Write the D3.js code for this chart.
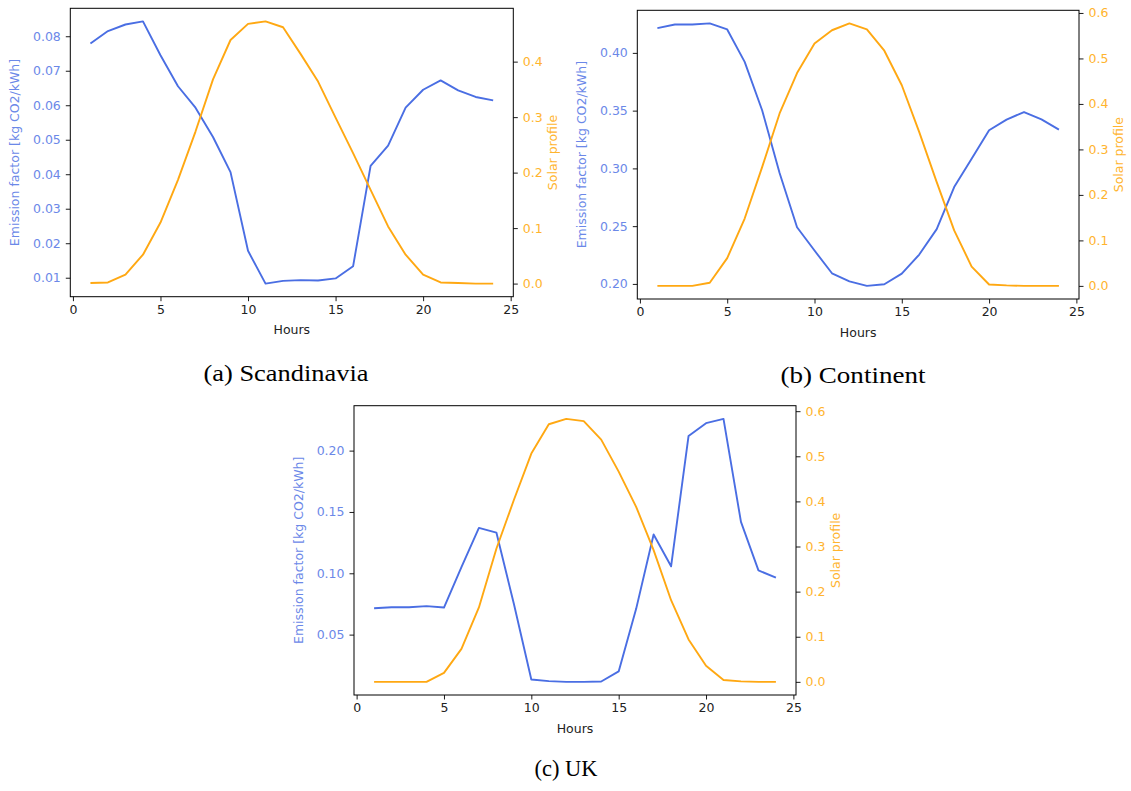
<!DOCTYPE html>
<html>
<head>
<meta charset="utf-8">
<script src="https://cdn.jsdelivr.net/npm/d3@7"></script>
<style>
  body { margin: 0; background: #fff; }
  svg { display: block; }
</style>
</head>
<body>
<svg id="chart" width="1131" height="791"></svg>
<script>
(() => {

    // data
    const hours = [1, 2, 3, 4, 5, 6, 7, 8, 9, 10, 11, 12, 13, 14, 15, 16, 17, 18, 19, 20, 21, 22, 23, 24];
    const x_ticks = [0, 5, 10, 15, 20, 25];

    const scand_emission = [0.0779, 0.0815, 0.0834, 0.0843, 0.0745, 0.0655, 0.0593, 0.0508, 0.0406, 0.0178, 0.0083, 0.0091,
        0.0093, 0.0092, 0.0098, 0.0133, 0.0424, 0.0483, 0.0593, 0.0645, 0.0672, 0.0643, 0.0624, 0.0614];
    const scand_solar = [0.001, 0.002, 0.016, 0.052, 0.110, 0.187, 0.274, 0.368, 0.439, 0.468, 0.4725, 0.462,
        0.414, 0.364, 0.299, 0.235, 0.169, 0.103, 0.052, 0.016, 0.002, 0.001, 0.0, 0.0];
    const scand_ticks = [0.01, 0.02, 0.03, 0.04, 0.05, 0.06, 0.07, 0.08];
    const scand_solar_ticks = [0.0, 0.1, 0.2, 0.3, 0.4];

    const cont_emission = [0.4214, 0.4246, 0.4246, 0.4255, 0.4203, 0.3922, 0.3503, 0.2960, 0.2491, 0.2289, 0.2092, 0.2022,
        0.1983, 0.1997, 0.2089, 0.2254, 0.2474, 0.2838, 0.3084, 0.3330, 0.3422, 0.3488, 0.3424, 0.3336];
    const cont_solar = [0.0, 0.0, 0.0, 0.007, 0.061, 0.148, 0.261, 0.379, 0.468, 0.533, 0.562, 0.577,
        0.564, 0.517, 0.441, 0.338, 0.228, 0.122, 0.0425, 0.003, 0.001, 0.0, 0.0, 0.0];
    const cont_ticks = [0.20, 0.25, 0.30, 0.35, 0.40];
    const cont_solar_ticks = [0.0, 0.1, 0.2, 0.3, 0.4, 0.5, 0.6];

    const uk_emission = [0.0715, 0.0723, 0.0723, 0.0732, 0.0721, 0.1051, 0.1370, 0.1332, 0.0751, 0.0134, 0.0121, 0.0115,
        0.0115, 0.0118, 0.0200, 0.0710, 0.1316, 0.1057, 0.2120, 0.2224, 0.2259, 0.1419, 0.1024, 0.0964];
    const uk_solar = [0.0, 0.0, 0.0, 0.0, 0.020, 0.073, 0.165, 0.295, 0.403, 0.506, 0.571, 0.583,
        0.578, 0.537, 0.466, 0.388, 0.292, 0.181, 0.094, 0.0355, 0.004, 0.001, 0.0, 0.0];
    const uk_ticks = [0.05, 0.10, 0.15, 0.20];
    const uk_solar_ticks = [0.0, 0.1, 0.2, 0.3, 0.4, 0.5, 0.6];

    // colours
    const line_blue = '#4a6ee3';
    const text_blue = '#6b88e8';
    const line_orange = '#ffa812';
    const text_orange = '#ffb42e';
    const font = 'DejaVu Sans, sans-serif';
    const font_size = 12.5;

    let svg = d3.select('#chart');

    // matplotlib style 5% margins
    let padded = function (values) {
        let lo = d3.min(values), hi = d3.max(values);
        let m = (hi - lo) * 0.05;
        return [lo - m, hi + m];
    };

    let draw_panel = function (p) {

        let g = svg.append('g');

        let x_scale = d3.scaleLinear()
            .domain(padded(hours))
            .range([p.left, p.right]);

        let y_left = d3.scaleLinear()
            .domain(padded(p.emission))
            .range([p.bottom, p.top]);

        let y_right = d3.scaleLinear()
            .domain(padded(p.solar))
            .range([p.bottom, p.top]);

        // lines
        let emission_line = d3.line()
            .x((d, i) => x_scale(hours[i]))
            .y((d) => y_left(d));

        let solar_line = d3.line()
            .x((d, i) => x_scale(hours[i]))
            .y((d) => y_right(d));

        g.append('path')
            .datum(p.emission)
            .attr('d', emission_line)
            .attr('fill', 'none')
            .attr('stroke', line_blue)
            .attr('stroke-width', 1.9)
            .attr('stroke-linejoin', 'round');

        g.append('path')
            .datum(p.solar)
            .attr('d', solar_line)
            .attr('fill', 'none')
            .attr('stroke', line_orange)
            .attr('stroke-width', 1.9)
            .attr('stroke-linejoin', 'round');

        // axes
        let x_axis = d3.axisBottom(x_scale)
            .tickValues(x_ticks)
            .tickFormat(d3.format('d'))
            .tickSize(4.5)
            .tickPadding(4);

        let left_axis = d3.axisLeft(y_left)
            .tickValues(p.ticks)
            .tickFormat(d3.format('.2f'))
            .tickSize(4.5)
            .tickPadding(5);

        let right_axis = d3.axisRight(y_right)
            .tickValues(p.solar_ticks)
            .tickFormat(d3.format('.1f'))
            .tickSize(4.5)
            .tickPadding(5);

        let style_axis = function (sel, color) {
            sel.select('.domain').remove();
            sel.selectAll('line').attr('stroke', '#000').attr('stroke-width', 0.9);
            sel.selectAll('text')
                .style('font-family', font)
                .style('font-size', font_size + 'px')
                .attr('fill', color);
        };

        g.append('g')
            .attr('transform', `translate(0, ${p.bottom})`)
            .call(x_axis)
            .call((s) => style_axis(s, '#222'));

        g.append('g')
            .attr('transform', `translate(${p.left}, 0)`)
            .call(left_axis)
            .call((s) => style_axis(s, text_blue));

        g.append('g')
            .attr('transform', `translate(${p.right}, 0)`)
            .call(right_axis)
            .call((s) => style_axis(s, text_orange));

        // frame
        g.append('rect')
            .attr('x', p.left)
            .attr('y', p.top)
            .attr('width', p.right - p.left)
            .attr('height', p.bottom - p.top)
            .attr('fill', 'none')
            .attr('stroke', '#000')
            .attr('stroke-width', 1);

        let mid_y = (p.top + p.bottom) / 2;

        // labels
        g.append('text')
            .attr('x', (p.left + p.right) / 2)
            .attr('y', p.bottom + 34)
            .attr('text-anchor', 'middle')
            .attr('dominant-baseline', 'middle')
            .style('font-family', font)
            .style('font-size', font_size + 'px')
            .attr('fill', '#222')
            .text('Hours');

        g.append('text')
            .attr('transform', `translate(${p.left - 55}, ${mid_y}) rotate(-90)`)
            .attr('text-anchor', 'middle')
            .attr('dominant-baseline', 'middle')
            .style('font-family', font)
            .style('font-size', font_size + 'px')
            .attr('fill', text_blue)
            .text('Emission factor [kg CO2/kWh]');

        g.append('text')
            .attr('transform', `translate(${p.right + 40}, ${mid_y}) rotate(-90)`)
            .attr('text-anchor', 'middle')
            .attr('dominant-baseline', 'middle')
            .style('font-family', font)
            .style('font-size', font_size + 'px')
            .attr('fill', text_orange)
            .text('Solar profile');

        // caption (latex style, wider than Times so stretch to measured width)
        svg.append('text')
            .attr('x', p.caption_x)
            .attr('y', p.caption_y)
            .attr('text-anchor', 'middle')
            .attr('dominant-baseline', 'middle')
            .attr('textLength', p.caption_w)
            .attr('lengthAdjust', 'spacingAndGlyphs')
            .style('font-family', 'Liberation Serif, DejaVu Serif, serif')
            .style('font-size', '23px')
            .attr('fill', '#000')
            .text(p.caption);
    };

    draw_panel({
        emission: scand_emission, solar: scand_solar,
        ticks: scand_ticks, solar_ticks: scand_solar_ticks,
        left: 70.3, right: 513.3, top: 8.3, bottom: 296.7,
        caption: '(a) Scandinavia', caption_x: 286, caption_y: 376, caption_w: 165
    });

    draw_panel({
        emission: cont_emission, solar: cont_solar,
        ticks: cont_ticks, solar_ticks: cont_solar_ticks,
        left: 637.3, right: 1079, top: 10.3, bottom: 299,
        caption: '(b) Continent', caption_x: 853, caption_y: 378, caption_w: 145
    });

    draw_panel({
        emission: uk_emission, solar: uk_solar,
        ticks: uk_ticks, solar_ticks: uk_solar_ticks,
        left: 354, right: 796, top: 405.7, bottom: 695,
        caption: '(c) UK', caption_x: 566, caption_y: 771, caption_w: 63
    });

})();
</script>
</body>
</html>
